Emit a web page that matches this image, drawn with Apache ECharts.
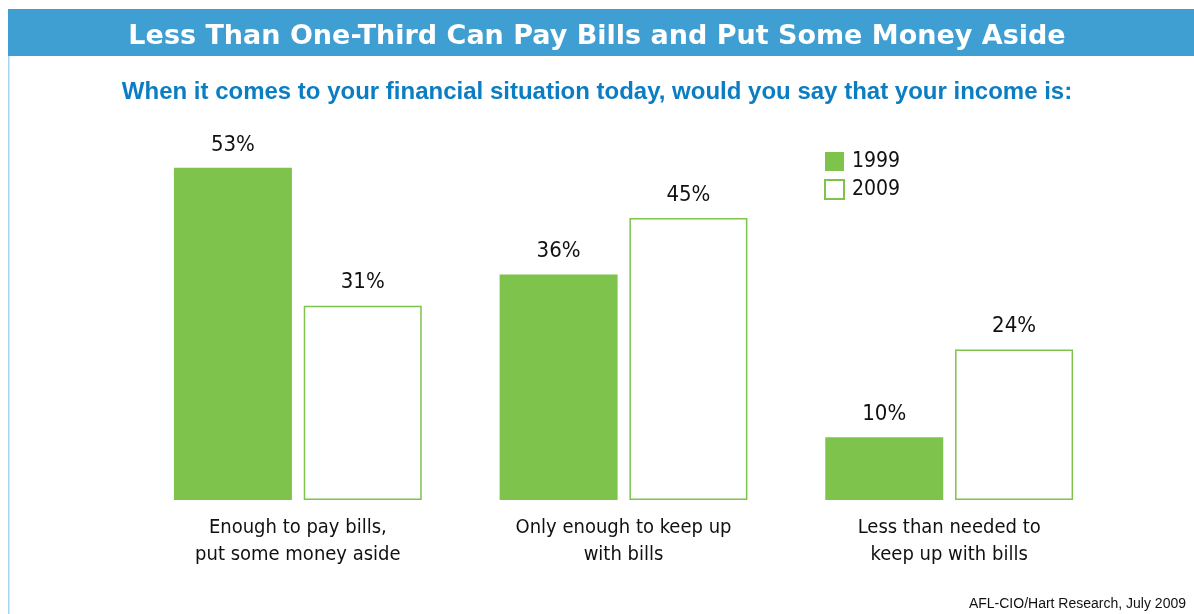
<!DOCTYPE html>
<html>
<head>
<meta charset="utf-8">
<script src="https://cdn.jsdelivr.net/npm/echarts@6/dist/echarts.min.js"></script>
<style>
  html, body { margin: 0; padding: 0; background: #fff; }
  #chart { width: 1194px; height: 614px; }
</style>
</head>
<body>
<div id="chart"></div>
<script>
// Data
const categories = [
  'Enough to pay bills,\nput some money aside',
  'Only enough to keep up\nwith bills',
  'Less than needed to\nkeep up with bills'
];
const values1999 = [53, 36, 10];
const values2009 = [31, 45, 24];

const green = '#7dc34c';
const narrow = '"DejaVu Sans Condensed", "Liberation Sans Narrow", sans-serif';

const chart = echarts.init(document.getElementById('chart'));

const option = {
  backgroundColor: '#fff',
  animation: false,
  title: [
    {
      text: 'Less Than One-Third Can Pay Bills and Put Some Money Aside',
      left: 'center',
      top: 18,
      textStyle: { color: '#fff', fontSize: 27, fontWeight: 'bold', fontFamily: '"DejaVu Sans", sans-serif' }
    },
    {
      text: 'When it comes to your financial situation today, would you say that your income is:',
      left: 'center',
      top: 75,
      textStyle: { color: '#0b7dc3', fontSize: 24, fontWeight: 'bold', fontFamily: '"Liberation Sans", Arial, sans-serif' }
    },
    {
      text: 'AFL-CIO/Hart Research, July 2009',
      right: 3,
      top: 592,
      textStyle: { color: '#111', fontSize: 14, fontWeight: 'normal', fontFamily: '"Liberation Sans", Arial, sans-serif' }
    }
  ],
  graphic: [
    { type: 'rect', shape: { x: 8, y: 9, width: 1186, height: 47 }, style: { fill: '#409fd2' }, z: -1 },
    { type: 'rect', shape: { x: 8, y: 56, width: 1.5, height: 558 }, style: { fill: '#a9d3ee' }, z: -1 }
  ],
  legend: {
    orient: 'vertical',
    left: 819,
    top: 146,
    icon: 'rect',
    itemWidth: 19,
    itemHeight: 19,
    itemGap: 7,
    textStyle: { color: '#111', fontSize: 21, fontFamily: narrow, padding: [0, 0, 0, 3] },
    data: ['1999', '2009']
  },
  grid: { left: 135, right: 82, top: 124, bottom: 114 },
  xAxis: {
    type: 'category',
    data: categories,
    axisLine: { show: false },
    axisTick: { show: false },
    axisLabel: { color: '#111', fontSize: 20, fontFamily: narrow, margin: 14, lineHeight: 27 }
  },
  yAxis: {
    type: 'value',
    min: 0,
    max: 60,
    show: false,
    splitLine: { show: false }
  },
  series: [
    {
      name: '1999',
      type: 'bar',
      data: values1999,
      barWidth: 118,
      barGap: '10%',
      itemStyle: { color: green },
      label: { show: true, position: 'top', distance: 12, formatter: '{c}%', color: '#111', fontSize: 22, fontFamily: narrow }
    },
    {
      name: '2009',
      type: 'bar',
      data: values2009,
      barWidth: 118,
      itemStyle: { color: '#fff', borderColor: green, borderWidth: 1.5 },
      label: { show: true, position: 'top', distance: 12, formatter: '{c}%', color: '#111', fontSize: 22, fontFamily: narrow }
    }
  ]
};

chart.setOption(option);

window.addEventListener('resize', () => {
  chart.resize();
});
</script>
</body>
</html>
